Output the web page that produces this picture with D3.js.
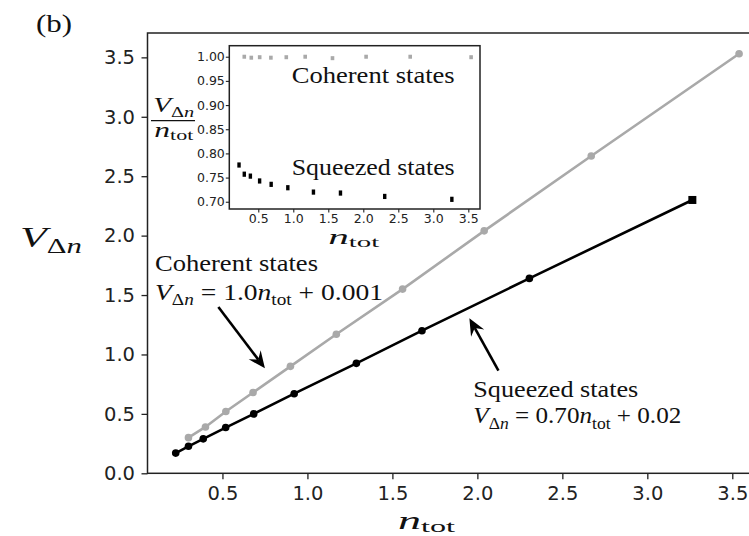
<!DOCTYPE html>
<html>
<head>
<meta charset="utf-8">
<script src="https://cdn.jsdelivr.net/npm/d3@7"></script>
<style>
  html, body { margin: 0; padding: 0; background: #fff; }
  svg { display: block; }
</style>
</head>
<body>
<svg id="fig" width="749" height="536"></svg>
<script>
// Photon-number variance against mean photon number
const coherentN = [0.30, 0.40, 0.52, 0.68, 0.90, 1.17, 1.56, 2.04, 2.67, 3.54];
const coherentV = [0.30, 0.39, 0.52, 0.68, 0.90, 1.17, 1.55, 2.04, 2.67, 3.53];
const squeezedN = [0.225, 0.30, 0.387, 0.519, 0.684, 0.922, 1.288, 1.674, 2.306, 3.265];
const squeezedV = [0.17, 0.227, 0.29, 0.385, 0.50, 0.67, 0.925, 1.20, 1.64, 2.30];
// Ratio V / n for the inset
const coherentRatio = [1.000, 0.998, 0.999, 0.998, 0.999, 1.000, 0.997, 1.000, 1.000, 0.999];
const squeezedRatio = [0.776, 0.757, 0.753, 0.743, 0.736, 0.729, 0.720, 0.718, 0.711, 0.705];

const mainXTicks = [0.5, 1.0, 1.5, 2.0, 2.5, 3.0, 3.5];
const mainYTicks = [0.0, 0.5, 1.0, 1.5, 2.0, 2.5, 3.0, 3.5];
const insetXTicks = [0.5, 1.0, 1.5, 2.0, 2.5, 3.0, 3.5];
const insetYTicks = [0.70, 0.75, 0.80, 0.85, 0.90, 0.95, 1.00];

const GRAY = "#a9a9a9";
const INK = "#000";
const AXIS = "#222";
const TEXT = "#111";
const SANS = "'DejaVu Sans', sans-serif";
const SERIF = "'Liberation Serif', 'DejaVu Serif', serif";

const svg = d3.select("#fig");
svg.append("rect").attr("width", 749).attr("height", 536).attr("fill", "#fff");

// ---- main axes ----
const x = d3.scaleLinear().domain([0.059, 3.706]).range([147.5, 767.3]);
const y = d3.scaleLinear().domain([0, 3.705]).range([473.3, 33]);

const main = svg.append("g");

const xAxis = main.append("g")
  .attr("transform", `translate(0,${y(0)})`)
  .call(d3.axisBottom(x).tickValues(mainXTicks).tickFormat(d3.format(".1f"))
        .tickSize(6).tickSizeOuter(0).tickPadding(7));
const yAxis = main.append("g")
  .attr("transform", `translate(${x.range()[0]},0)`)
  .call(d3.axisLeft(y).tickValues(mainYTicks).tickFormat(d3.format(".1f"))
        .tickSize(6).tickSizeOuter(0).tickPadding(6.5));
[xAxis, yAxis].forEach(a => {
  a.select(".domain").remove();
  a.selectAll(".tick line").attr("stroke", AXIS).attr("stroke-width", 1.3);
  a.selectAll(".tick text").attr("fill", "#222").style("font-family", SANS).style("font-size", "19.5px");
});

// frame
main.append("rect")
  .attr("x", x.range()[0]).attr("y", y.range()[1])
  .attr("width", x.range()[1] - x.range()[0]).attr("height", y.range()[0] - y.range()[1])
  .attr("fill", "none").attr("stroke", AXIS).attr("stroke-width", 1.5);

// lines
const line = d3.line().x(d => x(d[0])).y(d => y(d[1]));
const coherentPts = coherentN.map((n, i) => [n, coherentV[i]]);
const squeezedPts = squeezedN.map((n, i) => [n, squeezedV[i]]);

main.append("path").attr("d", line(coherentPts)).attr("fill", "none")
  .attr("stroke", GRAY).attr("stroke-width", 2.6);
main.append("path").attr("d", line(squeezedPts)).attr("fill", "none")
  .attr("stroke", INK).attr("stroke-width", 2.6);

main.selectAll("circle.coh").data(coherentPts).join("circle")
  .attr("class", "coh").attr("cx", d => x(d[0])).attr("cy", d => y(d[1]))
  .attr("r", 3.8).attr("fill", GRAY);
main.selectAll("circle.sq").data(squeezedPts.slice(0, -1)).join("circle")
  .attr("class", "sq").attr("cx", d => x(d[0])).attr("cy", d => y(d[1]))
  .attr("r", 3.8).attr("fill", INK);
const lastSq = squeezedPts[squeezedPts.length - 1];
main.append("rect")
  .attr("x", x(lastSq[0]) - 4).attr("y", y(lastSq[1]) - 4)
  .attr("width", 8).attr("height", 8).attr("fill", INK);

// ---- text helpers ----
// plain serif text stretched to a given width
function serifText(parent, px, py, str, size, width, anchor) {
  const t = parent.append("text").attr("x", px).attr("y", py)
    .attr("text-anchor", anchor || "start")
    .style("font-family", SERIF).style("font-size", size + "px").attr("fill", TEXT)
    .text(str);
  if (width) t.attr("textLength", width).attr("lengthAdjust", "spacingAndGlyphs");
  return t;
}
// parts: [text, kind] with kind 'r' roman, 'i' italic, 'sr'/'si' subscript roman/italic
function mathText(parent, px, py, parts, size, width, anchor, subShift) {
  const t = parent.append("text").attr("x", px).attr("y", py)
    .attr("text-anchor", anchor || "start")
    .style("font-family", SERIF).style("font-size", size + "px").attr("fill", TEXT);
  const shift = size * (subShift == null ? 0.22 : subShift);
  let inSub = false;
  parts.forEach(([s, kind]) => {
    const sub = kind[0] === "s";
    const ital = kind[kind.length - 1] === "i";
    const ts = t.append("tspan").text(s)
      .style("font-style", ital ? "italic" : "normal")
      .style("font-size", (sub ? size * 0.7 : size) + "px");
    if (sub && !inSub) ts.attr("dy", shift);
    if (!sub && inSub) ts.attr("dy", -shift);
    inSub = sub;
  });
  if (width) t.attr("textLength", width).attr("lengthAdjust", "spacingAndGlyphs");
  return t;
}

// ---- arrows ----
function arrow(parent, x1, y1, x2, y2) {
  const dx = x2 - x1, dy = y2 - y1, L = Math.hypot(dx, dy);
  const ux = dx / L, uy = dy / L, nx = -uy, ny = ux;
  const head = 17, half = 7.5, notch = 11;
  parent.append("line")
    .attr("x1", x1).attr("y1", y1)
    .attr("x2", x2 - ux * notch).attr("y2", y2 - uy * notch)
    .attr("stroke", INK).attr("stroke-width", 2.6);
  const bx = x2 - ux * head, by = y2 - uy * head;
  const pts = [
    [x2, y2],
    [bx + nx * half, by + ny * half],
    [x2 - ux * notch, y2 - uy * notch],
    [bx - nx * half, by - ny * half]
  ];
  parent.append("path").attr("d", "M" + pts.map(p => p.join(",")).join("L") + "Z").attr("fill", INK);
}

arrow(main, x(0.476), y(1.40), x(0.750), y(0.883));
arrow(main, x(2.124), y(0.863), x(1.953), y(1.304));

// ---- annotations ----
const ann = svg.append("g");
serifText(ann, x(0.103), y(1.705), "Coherent states", 24, 163);
mathText(ann, x(0.103), y(1.458), [
  ["V", "i"], ["Δ", "sr"], ["n", "si"], [" = 1.0", "r"], ["n", "i"], ["tot", "sr"], [" + 0.001", "r"]
], 24, 228);

serifText(ann, x(1.976), y(0.639), "Squeezed states", 24, 165);
mathText(ann, x(1.976), y(0.421), [
  ["V", "i"], ["Δ", "sr"], ["n", "si"], [" = 0.70", "r"], ["n", "i"], ["tot", "sr"], [" + 0.02", "r"]
], 24, 208);

// axis labels and panel tag
mathText(svg, 20, 246.7, [["V", "i"], ["Δ", "sr"], ["n", "si"]], 30, 62);
mathText(svg, 426.5, 529, [["n", "i"], ["tot", "sr"]], 25, 57, "middle", 0.1);
serifText(svg, 36, 32, "(b)", 26, 36);

// ---- inset ----
const xi = d3.scaleLinear().domain([0.086, 3.667]).range([229.3, 480]);
const yi = d3.scaleLinear().domain([0.685, 1.0228]).range([209, 45.7]);
const inset = svg.append("g");
inset.append("rect")
  .attr("x", xi.range()[0]).attr("y", yi.range()[1])
  .attr("width", xi.range()[1] - xi.range()[0]).attr("height", yi.range()[0] - yi.range()[1])
  .attr("fill", "#fff");

const ixAxis = inset.append("g")
  .attr("transform", `translate(0,${yi.range()[0]})`)
  .call(d3.axisBottom(xi).tickValues(insetXTicks).tickFormat(d3.format(".1f"))
        .tickSize(3.5).tickSizeOuter(0).tickPadding(2));
const iyAxis = inset.append("g")
  .attr("transform", `translate(${xi.range()[0]},0)`)
  .call(d3.axisLeft(yi).tickValues(insetYTicks).tickFormat(d3.format(".2f"))
        .tickSize(3.5).tickSizeOuter(0).tickPadding(1));
[ixAxis, iyAxis].forEach(a => {
  a.select(".domain").remove();
  a.selectAll(".tick line").attr("stroke", AXIS).attr("stroke-width", 1.1);
  a.selectAll(".tick text").attr("fill", "#222").style("font-family", SANS).style("font-size", "12.5px");
});

inset.append("rect")
  .attr("x", xi.range()[0]).attr("y", yi.range()[1])
  .attr("width", xi.range()[1] - xi.range()[0]).attr("height", yi.range()[0] - yi.range()[1])
  .attr("fill", "none").attr("stroke", AXIS).attr("stroke-width", 1.5);

inset.selectAll("rect.coh").data(coherentN.map((n, i) => [n, coherentRatio[i]])).join("rect")
  .attr("class", "coh")
  .attr("x", d => xi(d[0]) - 1.8).attr("y", d => yi(d[1]) - 2)
  .attr("width", 3.6).attr("height", 4).attr("fill", GRAY);
inset.selectAll("rect.sq").data(squeezedN.map((n, i) => [n, squeezedRatio[i]])).join("rect")
  .attr("class", "sq")
  .attr("x", d => xi(d[0]) - 1.7).attr("y", d => yi(d[1]) - 2.6)
  .attr("width", 3.4).attr("height", 5.2).attr("fill", INK);

serifText(inset, 291.7, yi(0.946), "Coherent states", 24, 163);
serifText(inset, 291.7, yi(0.755), "Squeezed states", 24, 163);

// inset axis labels
mathText(svg, 353.8, 244, [["n", "i"], ["tot", "sr"]], 20, 51, "middle", 0.14);
mathText(svg, 173.8, 111.7, [["V", "i"], ["Δ", "sr"], ["n", "si"]], 22, 41, "middle");
svg.append("line").attr("x1", 151).attr("x2", 195).attr("y1", 120.7).attr("y2", 120.7)
  .attr("stroke", TEXT).attr("stroke-width", 1.2);
mathText(svg, 173.8, 136.7, [["n", "i"], ["tot", "sr"]], 22, 39, "middle", 0.16);
</script>
</body>
</html>
